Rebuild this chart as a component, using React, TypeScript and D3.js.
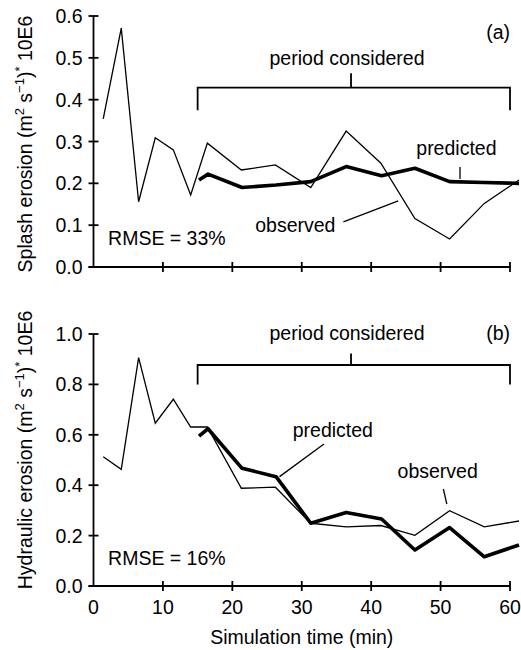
import React from "react";
import * as d3 from "d3";

// ---- data ----
const timeObs = [1.4, 4.0, 6.5, 8.9, 11.5, 14.0, 16.4, 21.3, 26.2, 31.3, 36.4, 41.4, 46.3, 51.3, 56.3, 61.3];
const splashObs = [0.354, 0.571, 0.156, 0.309, 0.28, 0.172, 0.296, 0.232, 0.244, 0.19, 0.325, 0.248, 0.116, 0.067, 0.152, 0.208];
const hydObs = [0.513, 0.463, 0.906, 0.646, 0.741, 0.631, 0.631, 0.388, 0.392, 0.249, 0.235, 0.24, 0.201, 0.299, 0.235, 0.258];

const timePred = [15.2, 16.5, 21.4, 26.3, 31.3, 36.4, 41.5, 46.3, 51.3, 56.3, 61.3];
const splashPred = [0.208, 0.222, 0.19, 0.196, 0.204, 0.24, 0.218, 0.236, 0.204, 0.202, 0.2];
const hydPred = [0.595, 0.624, 0.467, 0.434, 0.249, 0.292, 0.266, 0.143, 0.232, 0.116, 0.163];

const xTicks = [0, 10, 20, 30, 40, 50, 60];
const yTicksA = [0, 0.1, 0.2, 0.3, 0.4, 0.5, 0.6];
const yTicksB = [0, 0.2, 0.4, 0.6, 0.8, 1.0];

const periodStart = 15;
const periodEnd = 60;
const periodMid = 37.1;

const FONT = "'Liberation Sans', Arial, Helvetica, sans-serif";
const FS = 19.5;

const x = d3.scaleLinear().domain([0, 60]).range([93.5, 510]);
const yA = d3.scaleLinear().domain([0, 0.6]).range([267, 16]);
const yB = d3.scaleLinear().domain([0, 1]).range([586, 334]);

type Scale = d3.ScaleLinear<number, number>;

function lineFor(y: Scale, ts: number[], vs: number[]) {
  const g = d3
    .line<number>()
    .x((_, i) => x(ts[i]))
    .y((v) => y(v));
  return g(vs) || "";
}

function Axes({ y, ticks, fmt, showX }: { y: Scale; ticks: number[]; fmt: (v: number) => string; showX: boolean }) {
  const y0 = y(0);
  const x0 = x(0);
  const yTop = y(ticks[ticks.length - 1]);
  return (
    <g stroke="#000" strokeWidth={1.8} fill="none">
      <line x1={x0} x2={x0} y1={yTop} y2={y0} />
      <line x1={x0 - 5} x2={x(60)} y1={y0} y2={y0} />
      {ticks.map((t) => (
        <g key={"y" + t}>
          <line x1={x0 - 5} x2={x0 + 5} y1={y(t)} y2={y(t)} />
          <text
            x={x0 - 11}
            y={y(t) + 7}
            textAnchor="end"
            fill="#000"
            stroke="none"
            fontSize={FS}
            fontFamily={FONT}
          >
            {fmt(t)}
          </text>
        </g>
      ))}
      {xTicks.slice(1).map((t) => (
        <line key={"x" + t} x1={x(t)} x2={x(t)} y1={y0 - 5} y2={y0 + 5} />
      ))}
      {showX &&
        xTicks.map((t) => (
          <text
            key={"xl" + t}
            x={x(t)}
            y={y0 + 28}
            textAnchor="middle"
            fill="#000"
            stroke="none"
            fontSize={FS}
            fontFamily={FONT}
          >
            {t}
          </text>
        ))}
    </g>
  );
}

function Bracket({ y, lineV, dropV, topV, labelV }: { y: Scale; lineV: number; dropV: number; topV: number; labelV: number }) {
  const p = d3.path();
  p.moveTo(x(periodStart), y(dropV));
  p.lineTo(x(periodStart), y(lineV));
  p.lineTo(x(periodEnd), y(lineV));
  p.lineTo(x(periodEnd), y(dropV));
  return (
    <g>
      <path d={p.toString()} stroke="#000" strokeWidth={1.8} fill="none" />
      <line x1={x(periodMid)} x2={x(periodMid)} y1={y(lineV)} y2={y(topV)} stroke="#000" strokeWidth={1.8} />
      <text x={x(periodMid) - 4} y={y(labelV)} textAnchor="middle" fontSize={FS} fontFamily={FONT}>
        period considered
      </text>
    </g>
  );
}

function YLabel({ cx, cy, main }: { cx: number; cy: number; main: string }) {
  return (
    <text
      transform={`translate(${cx},${cy}) rotate(-90)`}
      textAnchor="middle"
      fontSize={FS}
      fontFamily={FONT}
    >
      {main} (m
      <tspan fontSize={13} dy={-8}>2</tspan>
      <tspan dy={8}> s</tspan>
      <tspan fontSize={13} dy={-8}>−1</tspan>
      <tspan dy={8}>)</tspan>
      <tspan fontSize={13} dy={-8}>*</tspan>
      <tspan dy={8}> 10E6</tspan>
    </text>
  );
}

export default function App() {
  const fmtA = (v: number) => d3.format(".1f")(v);
  return (
    <svg
      width={521}
      height={650}
      style={{ position: "absolute", left: 0, top: 0, background: "#fff" }}
    >
      <rect width={521} height={650} fill="#fff" />
      {/* Panel (a) */}
      <Axes y={yA} ticks={yTicksA} fmt={fmtA} showX={false} />
      <path d={lineFor(yA, timeObs, splashObs)} stroke="#000" strokeWidth={1.3} fill="none" strokeLinejoin="miter" />
      <path d={lineFor(yA, timePred, splashPred)} stroke="#000" strokeWidth={3.6} fill="none" strokeLinejoin="round" />
      <Bracket y={yA} lineV={0.4286} dropV={0.375} topV={0.463} labelV={0.483} />
      <text x={x(60)} y={yA(0.545)} textAnchor="end" fontSize={FS} fontFamily={FONT}>(a)</text>
      <text x={x(46.5)} y={yA(0.268)} fontSize={FS} fontFamily={FONT}>predicted</text>
      <line x1={x(52.8)} x2={x(52.8)} y1={yA(0.239)} y2={yA(0.2105)} stroke="#000" strokeWidth={1.3} />
      <text x={x(23.3)} y={yA(0.084)} fontSize={FS} fontFamily={FONT}>observed</text>
      <line x1={x(36.0)} x2={x(43.9)} y1={yA(0.108)} y2={yA(0.158)} stroke="#000" strokeWidth={1.3} />
      <text x={x(2.1)} y={yA(0.053)} fontSize={FS} fontFamily={FONT}>RMSE = 33%</text>
      <YLabel cx={32} cy={144} main="Splash erosion" />

      {/* Panel (b) */}
      <Axes y={yB} ticks={yTicksB} fmt={fmtA} showX={true} />
      <path d={lineFor(yB, timeObs, hydObs)} stroke="#000" strokeWidth={1.3} fill="none" strokeLinejoin="miter" />
      <path d={lineFor(yB, timePred, hydPred)} stroke="#000" strokeWidth={3.6} fill="none" strokeLinejoin="round" />
      <Bracket y={yB} lineV={0.877} dropV={0.8} topV={0.923} labelV={0.976} />
      <text x={x(60)} y={yB(0.976)} textAnchor="end" fontSize={FS} fontFamily={FONT}>(b)</text>
      <text x={x(28.7)} y={yB(0.5925)} fontSize={FS} fontFamily={FONT}>predicted</text>
      <line x1={x(33.2)} x2={x(26.8)} y1={yB(0.5635)} y2={yB(0.434)} stroke="#000" strokeWidth={1.3} />
      <text x={x(43.8)} y={yB(0.427)} fontSize={FS} fontFamily={FONT}>observed</text>
      <line x1={x(50.4)} x2={x(50.9)} y1={yB(0.385)} y2={yB(0.325)} stroke="#000" strokeWidth={1.3} />
      <text x={x(2.1)} y={yB(0.083)} fontSize={FS} fontFamily={FONT}>RMSE = 16%</text>
      <YLabel cx={32} cy={450} main="Hydraulic erosion" />
      <text x={x(30)} y={644} textAnchor="middle" fontSize={FS} fontFamily={FONT}>
        Simulation time (min)
      </text>
    </svg>
  );
}
